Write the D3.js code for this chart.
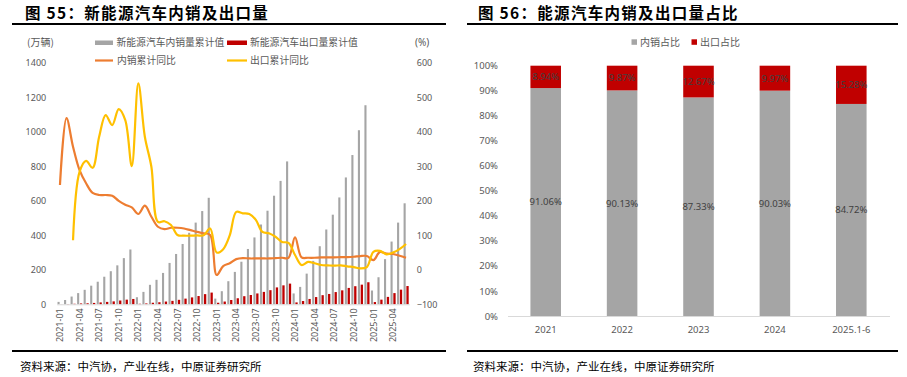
<!DOCTYPE html>
<html><head><meta charset="utf-8">
<script src="https://cdn.jsdelivr.net/npm/d3@7"></script>
<style>
body{margin:0;background:#fff;}
svg{display:block;}
text{font-family:"Noto Sans","Noto Sans CJK SC",sans-serif;}
.cjk{font-family:"Noto Sans CJK SC",sans-serif;}
</style></head>
<body><svg id="c" width="907" height="377"></svg>
<script>
// ---------- data: left chart ----------
const years = ["2021","2022","2023","2024","2025"];
const months = [];
years.forEach(y => { const n = y === "2025" ? 6 : 12; for (let m = 1; m <= n; m++) months.push(y + "-" + String(m).padStart(2,"0")); });
const domesticCum = [14,25,45,65,84,108,131,160,192,226,268,318,
  41,72,113,142,182,240,292,350,415,474,541,618,
  33,76,134,188,247,321,388,463,543,630,716,829,
  63,101,178,252,337,434,520,620,736,866,1010,1155,
  80,157,262,364,474,586];
const exportCum = [0.5,1.5,3,5,6,8,11,14,17,22,27,31,
  3,5,9,12,16,20,26,33,40,48,59,68,
  9,16,25,35,47,54,63,72,82,98,110,120,
  11,19,31,42,53,60,71,81,95,105,114,128,
  13,27,43,65,85,106];
const domesticYoY = [246,440,357,289,251,223,217,217,215,200,189,181,
  162,186,154,125,118,122,122,120,115,110,106,101,
  -15,11,19,31,34,33,33,33,33,34,35,35,
  94,36,35,35,36,36,36,37,37,38,40,40,
  28,52,47,46,41,35];
const exportYoY = [null,null,86,284,316,296,386,449,420,466,434,301,
  541,386,299,139,141,130,101,99,99,100,100,120,
  50,60,100,168,164,162,145,110,106,96,81,78,
  43,14,23,19,14,13,12,13,10,8,4,8,
  52,55,45,50,60,75];
const leftTicks = [0,200,400,600,800,1000,1200,1400];
const rightTicks = [-100,0,100,200,300,400,500,600];

// ---------- data: right chart ----------
const shareCats = ["2021","2022","2023","2024","2025.1-6"];
const domesticShare = [91.06,90.13,87.33,90.03,84.72];
const exportShare = [8.94,9.87,12.67,9.97,15.28];
const pctTicks = [0,10,20,30,40,50,60,70,80,90,100];

const C = {gray:"#A5A5A5", red:"#C00000", orange:"#ED7D31", yellow:"#FFC000", txt:"#595959", axis:"#D9D9D9"};
const svg = d3.select("#c");

// ---------- headers & footers ----------
function header(x0, x1, tx, title){
  svg.append("text").attr("class","cjk").attr("x",tx).attr("y",18.5)
    .attr("font-size",15.5).attr("font-weight","bold").attr("letter-spacing",1.3).attr("fill","#000").text(title);
  svg.append("rect").attr("x",x0).attr("y",23).attr("width",x1-x0).attr("height",2).attr("fill","#000");
  svg.append("rect").attr("x",x0).attr("y",350).attr("width",x1-x0).attr("height",2).attr("fill","#000");
  svg.append("text").attr("class","cjk").attr("x",tx-5).attr("y",371)
    .attr("font-size",11.5).attr("fill","#000").text("资料来源：中汽协，产业在线，中原证券研究所");
}
header(12,446,25,"图 55：新能源汽车内销及出口量");
header(467,898,478,"图 56：能源汽车内销及出口量占比");

// ---------- left chart ----------
const L = {left:56.7, right:409.3, top:63, bottom:304.3};
const x = d3.scaleBand().domain(months).range([L.left, L.right]);
const yL = d3.scaleLinear().domain([0,1400]).range([L.bottom, L.top]);
const yR = d3.scaleLinear().domain([-100,600]).range([L.bottom, L.top]);
const g = svg.append("g");

// bars
const bw = 2.1;
g.selectAll(".gb").data(months).join("rect")
  .attr("x", (d,i) => x(d) + x.bandwidth()/2 - bw - 0.35)
  .attr("y", (d,i) => yL(domesticCum[i]))
  .attr("width", bw).attr("height", (d,i) => yL(0) - yL(domesticCum[i]))
  .attr("fill", C.gray);
g.selectAll(".rb").data(months).join("rect")
  .attr("x", (d,i) => x(d) + x.bandwidth()/2 + 0.35)
  .attr("y", (d,i) => yL(exportCum[i]))
  .attr("width", bw+0.2).attr("height", (d,i) => yL(0) - yL(exportCum[i]))
  .attr("fill", C.red);

// x axis
const xAxis = g.append("g").attr("transform",`translate(0,${L.bottom})`)
  .call(d3.axisBottom(x).tickValues(months.filter((d,i)=>i%3===0)).tickSize(0));
xAxis.select(".domain").attr("stroke",C.axis);
xAxis.selectAll("text").attr("transform","rotate(-90)").attr("x",-4).attr("y",0).attr("dy","0.35em")
  .style("text-anchor","end").attr("font-size",9).attr("fill",C.txt);

// y axes
const yAxL = g.append("g").attr("transform",`translate(${L.left},0)`)
  .call(d3.axisLeft(yL).tickValues(leftTicks).tickFormat(d3.format("d")).tickSize(0).tickPadding(10.5));
yAxL.select(".domain").remove();
yAxL.selectAll("text").attr("font-size",9).attr("fill",C.txt);
const yAxR = g.append("g").attr("transform",`translate(${L.right},0)`)
  .call(d3.axisRight(yR).tickValues(rightTicks).tickFormat(d3.format("d")).tickSize(0).tickPadding(7.5));
yAxR.select(".domain").remove();
yAxR.selectAll("text").attr("font-size",9).attr("fill",C.txt);

// lines
const cx = (d,i) => x(months[i]) + x.bandwidth()/2;
const line1 = d3.line().x((d,i)=>cx(d,i)).y(d=>yR(d)).curve(d3.curveCatmullRom.alpha(0.5));
const line2 = d3.line().defined(d=>d!==null).x((d,i)=>cx(d,i)).y(d=>yR(d)).curve(d3.curveCatmullRom.alpha(0.5));
g.append("path").attr("d",line1(domesticYoY)).attr("fill","none").attr("stroke",C.orange).attr("stroke-width",2.2);
g.append("path").attr("d",line2(exportYoY)).attr("fill","none").attr("stroke",C.yellow).attr("stroke-width",2.2);

// units
svg.append("text").attr("class","cjk").attr("x",27).attr("y",46).attr("font-size",10).attr("fill",C.txt).text("(万辆)");
svg.append("text").attr("x",415).attr("y",46).attr("font-size",10).attr("fill",C.txt).text("(%)");

// legend
const lg = svg.append("g").attr("class","cjk");
lg.append("rect").attr("x",95).attr("y",40.5).attr("width",18).attr("height",4.5).attr("fill",C.gray);
lg.append("text").attr("x",116.5).attr("y",46.3).attr("font-size",9.8).attr("fill",C.txt).text("新能源汽车内销量累计值");
lg.append("rect").attr("x",227).attr("y",40.5).attr("width",20).attr("height",4.5).attr("fill",C.red);
lg.append("text").attr("x",250).attr("y",46.3).attr("font-size",9.8).attr("fill",C.txt).text("新能源汽车出口量累计值");
lg.append("line").attr("x1",95).attr("x2",113).attr("y1",60.5).attr("y2",60.5).attr("stroke",C.orange).attr("stroke-width",2.2);
lg.append("text").attr("x",117).attr("y",64).attr("font-size",9.8).attr("fill",C.txt).text("内销累计同比");
lg.append("line").attr("x1",227).attr("x2",247).attr("y1",60.5).attr("y2",60.5).attr("stroke",C.yellow).attr("stroke-width",2.2);
lg.append("text").attr("x",250).attr("y",64).attr("font-size",9.8).attr("fill",C.txt).text("出口累计同比");

// ---------- right chart ----------
const R = {left:507.5, right:889.5, top:65.7, bottom:316};
const xb = d3.scaleBand().domain(shareCats).range([R.left, R.right]).paddingInner(0.6).paddingOuter(0.3);
const yP = d3.scaleLinear().domain([0,100]).range([R.bottom, R.top]);
const rg = svg.append("g");
rg.selectAll(".dg").data(shareCats).join("rect")
  .attr("x", d=>xb(d)).attr("width", xb.bandwidth())
  .attr("y", (d,i)=>yP(domesticShare[i])).attr("height",(d,i)=>yP(0)-yP(domesticShare[i]))
  .attr("fill", C.gray);
rg.selectAll(".er").data(shareCats).join("rect")
  .attr("x", d=>xb(d)).attr("width", xb.bandwidth())
  .attr("y", (d,i)=>yP(domesticShare[i]+exportShare[i])).attr("height",(d,i)=>yP(domesticShare[i])-yP(domesticShare[i]+exportShare[i]))
  .attr("fill", C.red);
rg.selectAll(".dl").data(shareCats).join("text")
  .attr("x", d=>xb(d)+xb.bandwidth()/2).attr("y",(d,i)=>yP(domesticShare[i]/2)).attr("dy","0.35em")
  .attr("text-anchor","middle").attr("font-size",9.5).attr("fill","#404040")
  .text((d,i)=>domesticShare[i].toFixed(2)+"%");
rg.selectAll(".el").data(shareCats).join("text")
  .attr("x", d=>xb(d)+xb.bandwidth()/2).attr("y",(d,i)=>yP(domesticShare[i]+exportShare[i]/2)).attr("dy","0.35em")
  .attr("text-anchor","middle").attr("font-size",9.5).attr("fill","#404040")
  .text((d,i)=>exportShare[i].toFixed(2)+"%");

const xbAx = rg.append("g").attr("transform",`translate(0,${R.bottom})`)
  .call(d3.axisBottom(xb).tickSize(0).tickPadding(10));
xbAx.select(".domain").attr("stroke",C.axis);
xbAx.selectAll("text").attr("font-size",9.5).attr("fill",C.txt);
const ypAx = rg.append("g").attr("transform",`translate(${R.left},0)`)
  .call(d3.axisLeft(yP).tickValues(pctTicks).tickFormat(d=>d+"%").tickSize(0).tickPadding(9.5));
ypAx.select(".domain").remove();
ypAx.selectAll("text").attr("font-size",9.5).attr("fill",C.txt);

// right legend
const rl = svg.append("g").attr("class","cjk");
rl.append("rect").attr("x",631.5).attr("y",39.3).attr("width",5.5).attr("height",5.5).attr("fill",C.gray);
rl.append("text").attr("x",640).attr("y",45.5).attr("font-size",10).attr("fill",C.txt).text("内销占比");
rl.append("rect").attr("x",691.5).attr("y",39.3).attr("width",5.5).attr("height",5.5).attr("fill",C.red);
rl.append("text").attr("x",700).attr("y",45.5).attr("font-size",10).attr("fill",C.txt).text("出口占比");
</script></body></html>
